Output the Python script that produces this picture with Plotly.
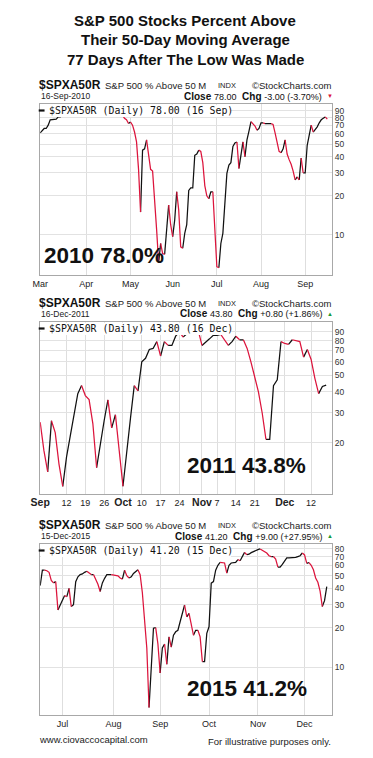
import plotly.graph_objects as go
import pandas as pd

W, H = 373, 758

TITLE_LINES = ["S&P 500 Stocks Percent Above",
               "Their 50-Day Moving Average",
               "77 Days After The Low Was Made"]

# ---- 2010 panel: daily values (weekdays) from 2010-03-01 ----
start_2010 = "2010-03-01"
vals_2010 = [61, 63, 66, 66, 70, 77, 77, 78, 78, 81, 81, 83,
             85, 86, 88, 87, 89, 90, 88, 91, 92, 90, 89, 91, 92, 93, 91, 92, 94, 93,
             92, 94, 95, 93, 91, 92, 90, 91, 93, 89, 87,
             84, 79, 77, 72, 74, 70, 62, 52, 32, 15,
             45, 46, 54, 41, 32, 31, 20, 11, 6.1, 8.6,
             7.2, 7.1, 11, 17, 12, 9.7, 13, 21.5, 15.6, 8.1,
             7.9, 10.3, 12, 22, 23, 23, 41, 42, 45, 44,
             36, 24, 20, 19, 21.5, 21.5, 12, 5.7, 5.6, 8.6,
             10.3, 18.6, 29.8, 34.5, 36, 48, 51, 52, 32.5, 40,
             52, 40, 54, 63, 74.5, 72, 69, 64, 66, 73,
             73, 72, 72, 72, 72, 71, 61, 52, 44, 43,
             46, 54, 42, 38, 35, 31, 26.5, 28, 26.5, 39,
             30, 30, 49, 57, 70, 62, 65, 68, 73, 77,
             79, 81, 78]

# ---- 2011 panel: daily values from 2011-09-01 ----
start_2011 = "2011-09-01"
vals_2011 = [26.5, 18, 13.5, 27, 23, 15, 11.1, 16.5, 22, 30,
             39, 43.5, 38, 36, 26, 14.3, 20, 27, 35.8, 24.5,
             29.3, 18, 11.1, 17, 28, 43.5, 40.5, 60, 63, 71,
             72, 79, 65, 79, 75, 75, 85, 90, 84, 88,
             92, 90, 92, 75, 78, 82, 86, 86, 87, 80,
             75, 79, 85, 81, 81, 72, 60, 49, 40, 30,
             21, 21, 43.5, 47, 79, 77, 76, 81, 80, 79,
             64, 71, 62, 48, 39, 43, 43.8]

# ---- 2015 panel: daily values from 2015-06-17 ----
start_2015 = "2015-06-17"
vals_2015 = [42, 55, 55, 54.5, 53, 46, 44, 45, 27.3, 30,
             33, 35.2, 34.5, 40, 29, 30, 45, 49, 51, 51.5,
             53, 54, 52, 51, 51, 47, 43, 37.8, 44, 47.7,
             50.8, 50.8, 50.8, 50.5, 50, 49.9, 48, 47, 55, 50,
             48, 49, 52, 54, 55.5, 50.8, 37, 23, 14, 4.9,
             10, 19.8, 20, 15, 9, 14, 15, 10.5, 17, 14.2,
             17.5, 18.6, 19.1, 22.2, 26.5, 29.8, 24.2, 25.7, 21, 17.5,
             19.1, 19.1, 17, 11, 11, 18.1, 20.3, 43.8, 45, 55,
             60, 63.1, 63, 62.5, 52.2, 60, 62.5, 62.5, 63.1, 66.4,
             65, 70, 75.3, 72.3, 73, 75, 76.6, 78, 79, 80,
             78, 76, 74.5, 71, 70, 70, 67, 58, 58, 61,
             65, 68.4, 68.4, 68.4, 68.6, 69, 70, 71, 74.5, 72,
             62, 63, 60, 55.5, 48, 44.5, 38, 29, 32.2, 41.2]

# ---- axis ticks ----
xt_2010 = ["2010-03-01", "2010-04-01", "2010-05-03", "2010-06-01", "2010-07-01", "2010-08-02", "2010-09-01"]
xl_2010 = ["Mar", "Apr", "May", "Jun", "Jul", "Aug", "Sep"]
xt_2011 = ["2011-09-01", "2011-09-12", "2011-09-19", "2011-09-26", "2011-10-03", "2011-10-10", "2011-10-17",
           "2011-10-24", "2011-11-01", "2011-11-07", "2011-11-14", "2011-11-21", "2011-12-01", "2011-12-12"]
xl_2011 = ["<b style='font-size:10.5px'>Sep</b>", "12", "19", "26", "<b style='font-size:10.5px'>Oct</b>",
           "10", "17", "24", "<b style='font-size:10.5px'>Nov</b>", "7", "14", "21",
           "<b style='font-size:10.5px'>Dec</b>", "12"]
xt_2015 = ["2015-07-01", "2015-08-03", "2015-09-01", "2015-10-01", "2015-11-02", "2015-12-01"]
xl_2015 = ["Jul", "Aug", "Sep", "Oct", "Nov", "Dec"]

yt_2010 = [10, 20, 30, 40, 50, 60, 70, 80, 90]
yt_2011 = [20, 30, 40, 50, 60, 70, 80, 90]
yt_2015 = [10, 20, 30, 40, 50, 60, 70, 80]

RED = "#dc143c"
BLK = "#111111"
FONT = "Liberation Sans, Arial, sans-serif"


def px(x):
    return x / W


def py(y):
    return 1 - y / H


def split_dir(xs, ys):
    """Split the line into rising (black) and falling (red) runs."""
    runs = {"up": ([], []), "dn": ([], [])}
    prev = None
    for i in range(1, len(ys)):
        key = "up" if ys[i] >= ys[i - 1] else "dn"
        tx, ty = runs[key]
        if key == prev:
            tx.append(xs[i]); ty.append(ys[i])
        else:
            if tx:
                tx.append(None); ty.append(None)
            tx.extend([xs[i - 1], xs[i]]); ty.extend([ys[i - 1], ys[i]])
        prev = key
    return runs


fig = go.Figure()

panels = [
    dict(start=start_2010, vals=vals_2010, xt=xt_2010, xl=xl_2010, yt=yt_2010,
         xr=["2010-03-01", "2010-09-20 10:00"], yr=[0.692, 2.008], top=104, bot=275,
         date="16-Sep-2010", close="78.00", chg="-3.00 (-3.70%)", up=False,
         leg="$SPXA50R (Daily) 78.00 (16 Sep)", big="2010 78.0%", bigx=33, bigy=255),
    dict(start=start_2011, vals=vals_2011, xt=xt_2011, xl=xl_2011, yt=yt_2011,
         xr=["2011-09-01", "2011-12-19 14:00"], yr=[1.0, 2.013], top=322, bot=494,
         date="16-Dec-2011", close="43.80", chg="+0.80 (+1.86%)", up=True,
         leg="$SPXA50R (Daily) 43.80 (16 Dec)", big="2011 43.8%", bigx=180, bigy=465),
    dict(start=start_2015, vals=vals_2015, xt=xt_2015, xl=xl_2015, yt=yt_2015,
         xr=["2015-06-17", "2015-12-17 10:00"], yr=[0.633, 1.941], top=544, bot=715,
         date="15-Dec-2015", close="41.20", chg="+9.00 (+27.95%)", up=True,
         leg="$SPXA50R (Daily) 41.20 (15 Dec)", big="2015 41.2%", bigx=180, bigy=688),
]

annotations = []
shapes = []

for i, p in enumerate(panels):
    k = "" if i == 0 else str(i + 1)
    xs = [d.strftime("%Y-%m-%d") for d in pd.bdate_range(p["start"], periods=len(p["vals"]))]
    runs = split_dir(xs, p["vals"])
    for key, col in (("up", BLK), ("dn", RED)):
        fig.add_trace(go.Scatter(x=runs[key][0], y=runs[key][1], mode="lines",
                                 line=dict(color=col, width=1.25), xaxis="x" + k, yaxis="y" + k,
                                 hoverinfo="skip", showlegend=False, connectgaps=False))
    dom_y = [py(p["bot"]), py(p["top"])]
    fig.layout["xaxis" + k] = dict(
        domain=[px(31), px(331)], anchor="y" + k, type="date", range=p["xr"],
        rangebreaks=[dict(bounds=["sat", "mon"])],
        tickvals=p["xt"], ticktext=p["xl"], tickangle=0,
        showgrid=True, gridcolor="#dedede", gridwidth=1,
        showline=True, mirror=True, linecolor="#a8a8a8", linewidth=1,
        ticks="", tickfont=dict(family=FONT, size=9, color="#222"), zeroline=False)
    fig.layout["yaxis" + k] = dict(
        domain=dom_y, anchor="x" + k, type="log", range=p["yr"], side="right",
        tickvals=p["yt"], ticktext=[str(v) for v in p["yt"]],
        showgrid=True, gridcolor="#e2e2e2", gridwidth=1,
        showline=True, mirror=True, linecolor="#a8a8a8", linewidth=1,
        ticks="", tickfont=dict(family=FONT, size=8.5, color="#333"), zeroline=False)

    top = p["top"]
    hy = top - 19
    dy = top - 8
    annotations += [
        dict(text="<b>$SPXA50R</b>", x=px(27.5), y=py(hy), xanchor="left", yanchor="middle",
             font=dict(family=FONT, size=12, color="#111")),
        dict(text="S&P 500 % Above 50 M", x=px(95.5), y=py(hy + 0.5), xanchor="left", yanchor="middle",
             font=dict(family=FONT, size=9.5, color="#222")),
        dict(text="INDX", x=px(212), y=py(hy + 0.5), xanchor="left", yanchor="middle",
             font=dict(family=FONT, size=7.5, color="#222")),
        dict(text="©StockCharts.com", x=px(332), y=py(hy + 0.5), xanchor="right", yanchor="middle",
             font=dict(family=FONT, size=9.5, color="#222")),
        dict(text=p["date"], x=px(30), y=py(dy), xanchor="left", yanchor="middle",
             font=dict(family=FONT, size=8.5, color="#222")),
        dict(text="<b>Close</b> <span style='font-size:9px'>" + p["close"] + "</span>  <b>Chg</b> "
                  "<span style='font-size:9px'>" + p["chg"] + "</span>",
             x=px(323), y=py(dy), xanchor="right", yanchor="middle",
             font=dict(family=FONT, size=10, color="#111")),
        dict(text="▲" if p["up"] else "▼", x=px(328.5), y=py(dy), xanchor="center", yanchor="middle",
             font=dict(family=FONT, size=6, color="#1a9a3a" if p["up"] else RED)),
        dict(text=p["leg"], x=px(38.5), y=py(top + 6.5), xanchor="left", yanchor="middle",
             font=dict(family="DejaVu Sans Mono, monospace", size=9.9, color="#111")),
        dict(text="<b>" + p["big"] + "</b>", x=px(p["bigx"]), y=py(p["bigy"]), xanchor="left",
             yanchor="middle", font=dict(family=FONT, size=22.5, color="#111")),
    ]
    shapes += [
        dict(type="rect", xref="paper", yref="paper", x0=px(31.8), x1=px(227), y0=py(top + 13),
             y1=py(top + 0.8), fillcolor="white", line=dict(width=0), layer="above"),
        dict(type="line", xref="paper", yref="paper", x0=px(29.5), x1=px(35.5), y0=py(top + 6.5),
             y1=py(top + 6.5), line=dict(color="#111", width=2.2), layer="above"),
    ]

for j, t in enumerate(TITLE_LINES):
    annotations.append(dict(text="<b>" + t + "</b>", x=px(180), y=py(20 + 19.5 * j),
                            xanchor="center", yanchor="middle",
                            font=dict(family=FONT, size=15, color="#111")))

annotations += [
    dict(text="www.ciovaccocapital.com", x=px(28), y=py(739), xanchor="left", yanchor="middle",
         font=dict(family=FONT, size=9.5, color="#222")),
    dict(text="For illustrative purposes only.", x=px(332), y=py(741), xanchor="right", yanchor="middle",
         font=dict(family=FONT, size=9.5, color="#222")),
]
for a in annotations:
    a.update(xref="paper", yref="paper", showarrow=False)

fig.update_layout(width=W, height=H, margin=dict(l=0, r=0, t=0, b=0),
                  paper_bgcolor="white", plot_bgcolor="white",
                  annotations=annotations, shapes=shapes, showlegend=False)

fig.write_html("out.html", config={"displayModeBar": False},
               post_script="document.body.style.margin='0px';")
